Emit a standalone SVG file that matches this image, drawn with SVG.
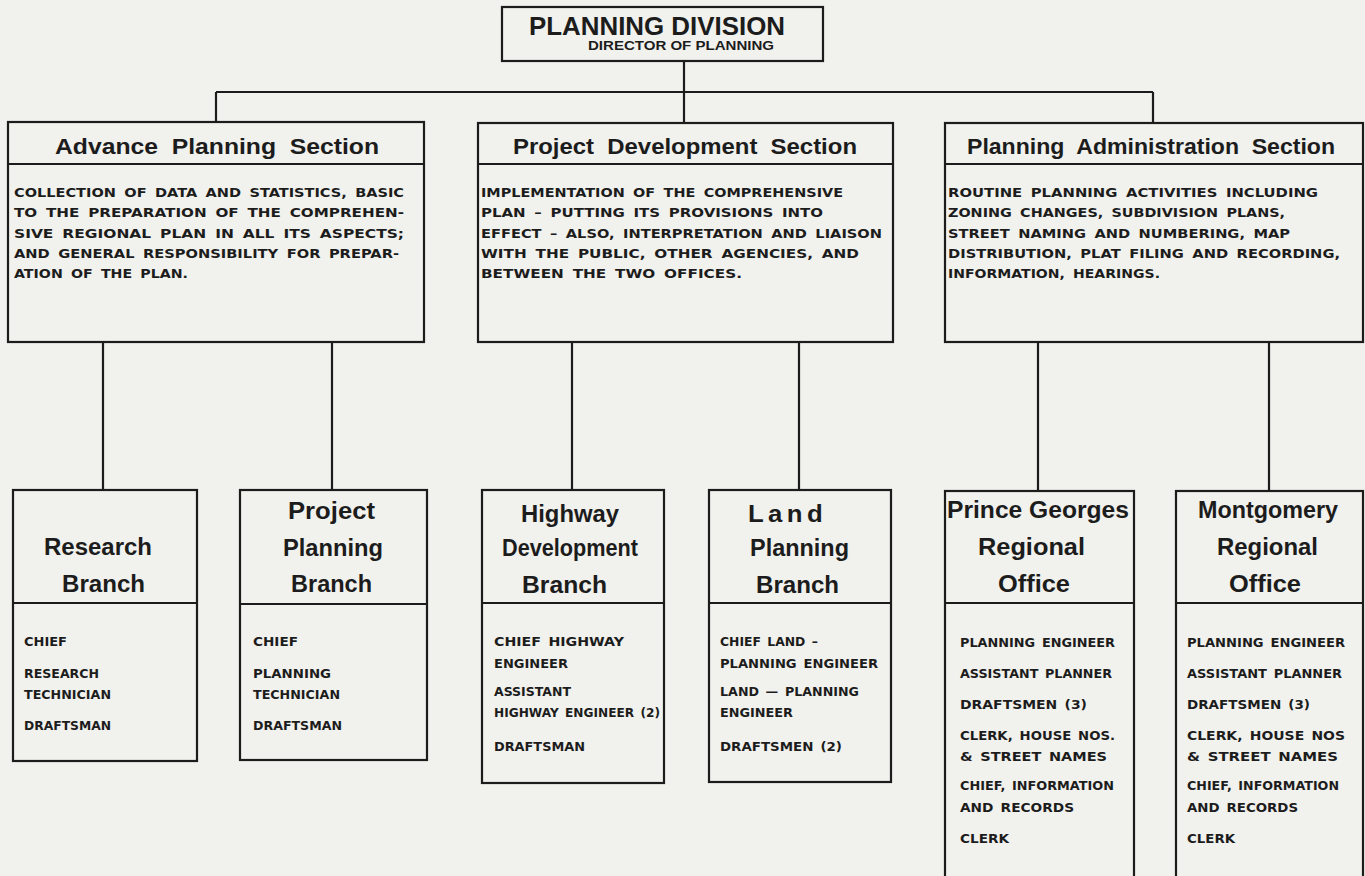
<svg xmlns="http://www.w3.org/2000/svg" width="1365" height="876" viewBox="0 0 1365 876">
<style>
.bg{fill:#f1f1ed}
.box{fill:none;stroke:#1c1c1c;stroke-width:2.2}
.ln{stroke:#1c1c1c;stroke-width:2.2;fill:none}
text{font-family:"Liberation Sans",Arial,sans-serif;font-weight:bold;fill:#1c1c1c}
.h1{font-size:25px}
.h2{font-size:12.5px}
.st{font-size:22px;word-spacing:6px}
.ds{font-family:"DejaVu Sans",sans-serif;font-size:13px;word-spacing:3px}
.bt{font-size:23.5px}
.sf{font-family:"DejaVu Sans",sans-serif;font-size:11.5px;word-spacing:2px}
</style>
<rect class="bg" x="0" y="0" width="1365" height="876"/>
<g id="connectors">
<line class="ln" x1="684" y1="61" x2="684" y2="123"/>
<line class="ln" x1="216" y1="92" x2="1153" y2="92"/>
<line class="ln" x1="216" y1="92" x2="216" y2="123"/>
<line class="ln" x1="1153" y1="92" x2="1153" y2="123"/>
<line class="ln" x1="103" y1="342" x2="103" y2="490"/>
<line class="ln" x1="332" y1="342" x2="332" y2="490"/>
<line class="ln" x1="572" y1="342" x2="572" y2="490"/>
<line class="ln" x1="799" y1="342" x2="799" y2="490"/>
<line class="ln" x1="1038" y1="342" x2="1038" y2="491"/>
<line class="ln" x1="1269" y1="342" x2="1269" y2="491"/>
</g>
<g id="planning-division">
<rect class="box" x="502" y="7" width="321" height="54"/>
<text class="h1" x="529" y="35" textLength="256" lengthAdjust="spacingAndGlyphs">PLANNING DIVISION</text>
<text class="h2" x="588" y="50" textLength="186" lengthAdjust="spacingAndGlyphs">DIRECTOR OF PLANNING</text>
</g>
<g id="advance-planning-section">
<rect class="box" x="8" y="122" width="416" height="220"/>
<line class="ln" x1="8" y1="164" x2="424" y2="164"/>
<text class="st" x="55" y="154" textLength="324" lengthAdjust="spacingAndGlyphs">Advance Planning Section</text>
<text class="ds" x="14" y="197" textLength="390" lengthAdjust="spacingAndGlyphs">COLLECTION OF DATA AND STATISTICS, BASIC</text>
<text class="ds" x="14" y="217" textLength="390" lengthAdjust="spacingAndGlyphs">TO THE PREPARATION OF THE COMPREHEN-</text>
<text class="ds" x="14" y="237.5" textLength="390" lengthAdjust="spacingAndGlyphs">SIVE REGIONAL PLAN IN ALL ITS ASPECTS;</text>
<text class="ds" x="14" y="258" textLength="385" lengthAdjust="spacingAndGlyphs">AND GENERAL RESPONSIBILITY FOR PREPAR-</text>
<text class="ds" x="14" y="278" textLength="174" lengthAdjust="spacingAndGlyphs">ATION OF THE PLAN.</text>
</g>
<g id="project-development-section">
<rect class="box" x="478" y="123" width="415" height="219"/>
<line class="ln" x1="478" y1="164" x2="893" y2="164"/>
<text class="st" x="513" y="154" textLength="344" lengthAdjust="spacingAndGlyphs">Project Development Section</text>
<text class="ds" x="481" y="197" textLength="362" lengthAdjust="spacingAndGlyphs">IMPLEMENTATION OF THE COMPREHENSIVE</text>
<text class="ds" x="481" y="217" textLength="342" lengthAdjust="spacingAndGlyphs">PLAN – PUTTING ITS PROVISIONS INTO</text>
<text class="ds" x="481" y="237.5" textLength="401" lengthAdjust="spacingAndGlyphs">EFFECT – ALSO, INTERPRETATION AND LIAISON</text>
<text class="ds" x="481" y="258" textLength="378" lengthAdjust="spacingAndGlyphs">WITH THE PUBLIC, OTHER AGENCIES, AND</text>
<text class="ds" x="481" y="278" textLength="261" lengthAdjust="spacingAndGlyphs">BETWEEN THE TWO OFFICES.</text>
</g>
<g id="planning-administration-section">
<rect class="box" x="945" y="123" width="418" height="219"/>
<line class="ln" x1="945" y1="164" x2="1363" y2="164"/>
<text class="st" x="967" y="154" textLength="368" lengthAdjust="spacingAndGlyphs">Planning Administration Section</text>
<text class="ds" x="948" y="197" textLength="370" lengthAdjust="spacingAndGlyphs">ROUTINE PLANNING ACTIVITIES INCLUDING</text>
<text class="ds" x="948" y="217" textLength="337" lengthAdjust="spacingAndGlyphs">ZONING CHANGES, SUBDIVISION PLANS,</text>
<text class="ds" x="948" y="237.5" textLength="342" lengthAdjust="spacingAndGlyphs">STREET NAMING AND NUMBERING, MAP</text>
<text class="ds" x="948" y="258" textLength="392" lengthAdjust="spacingAndGlyphs">DISTRIBUTION, PLAT FILING AND RECORDING,</text>
<text class="ds" x="948" y="278" textLength="212" lengthAdjust="spacingAndGlyphs">INFORMATION,  HEARINGS.</text>
</g>
<g id="research-branch">
<rect class="box" x="13" y="490" width="184" height="271"/>
<line class="ln" x1="13" y1="603" x2="197" y2="603"/>
<text class="bt" x="44" y="555" textLength="108" lengthAdjust="spacingAndGlyphs">Research</text>
<text class="bt" x="62" y="592" textLength="83" lengthAdjust="spacingAndGlyphs">Branch</text>
<text class="sf" x="24" y="646" textLength="43" lengthAdjust="spacingAndGlyphs">CHIEF</text>
<text class="sf" x="24" y="678" textLength="75" lengthAdjust="spacingAndGlyphs">RESEARCH</text>
<text class="sf" x="24" y="699" textLength="87" lengthAdjust="spacingAndGlyphs">TECHNICIAN</text>
<text class="sf" x="24" y="730" textLength="87" lengthAdjust="spacingAndGlyphs">DRAFTSMAN</text>
</g>
<g id="project-planning-branch">
<rect class="box" x="240" y="490" width="187" height="270"/>
<line class="ln" x1="240" y1="604" x2="427" y2="604"/>
<text class="bt" x="288" y="519" textLength="87" lengthAdjust="spacingAndGlyphs">Project</text>
<text class="bt" x="283" y="556" textLength="100" lengthAdjust="spacingAndGlyphs">Planning</text>
<text class="bt" x="291" y="592" textLength="81" lengthAdjust="spacingAndGlyphs">Branch</text>
<text class="sf" x="253" y="646" textLength="45" lengthAdjust="spacingAndGlyphs">CHIEF</text>
<text class="sf" x="253" y="678" textLength="78" lengthAdjust="spacingAndGlyphs">PLANNING</text>
<text class="sf" x="253" y="699" textLength="87" lengthAdjust="spacingAndGlyphs">TECHNICIAN</text>
<text class="sf" x="253" y="730" textLength="89" lengthAdjust="spacingAndGlyphs">DRAFTSMAN</text>
</g>
<g id="highway-development-branch">
<rect class="box" x="482" y="490" width="182" height="293"/>
<line class="ln" x1="482" y1="603" x2="664" y2="603"/>
<text class="bt" x="521" y="522" textLength="98" lengthAdjust="spacingAndGlyphs">Highway</text>
<text class="bt" x="502" y="556" textLength="136" lengthAdjust="spacingAndGlyphs">Development</text>
<text class="bt" x="522" y="593" textLength="85" lengthAdjust="spacingAndGlyphs">Branch</text>
<text class="sf" x="494" y="646" textLength="130" lengthAdjust="spacingAndGlyphs">CHIEF   HIGHWAY</text>
<text class="sf" x="494" y="668" textLength="74" lengthAdjust="spacingAndGlyphs">ENGINEER</text>
<text class="sf" x="494" y="696" textLength="77" lengthAdjust="spacingAndGlyphs">ASSISTANT</text>
<text class="sf" x="494" y="717" textLength="166" lengthAdjust="spacingAndGlyphs">HIGHWAY  ENGINEER (2)</text>
<text class="sf" x="494" y="751" textLength="91" lengthAdjust="spacingAndGlyphs">DRAFTSMAN</text>
</g>
<g id="land-planning-branch">
<rect class="box" x="709" y="490" width="182" height="292"/>
<line class="ln" x1="709" y1="603" x2="891" y2="603"/>
<text class="bt" x="748" y="522" textLength="79" lengthAdjust="spacingAndGlyphs" style="letter-spacing:4px">Land</text>
<text class="bt" x="750" y="556" textLength="99" lengthAdjust="spacingAndGlyphs">Planning</text>
<text class="bt" x="756" y="593" textLength="83" lengthAdjust="spacingAndGlyphs">Branch</text>
<text class="sf" x="720" y="646" textLength="98" lengthAdjust="spacingAndGlyphs">CHIEF LAND –</text>
<text class="sf" x="720" y="668" textLength="158" lengthAdjust="spacingAndGlyphs">PLANNING  ENGINEER</text>
<text class="sf" x="720" y="696" textLength="139" lengthAdjust="spacingAndGlyphs">LAND — PLANNING</text>
<text class="sf" x="720" y="717" textLength="73" lengthAdjust="spacingAndGlyphs">ENGINEER</text>
<text class="sf" x="720" y="751" textLength="122" lengthAdjust="spacingAndGlyphs">DRAFTSMEN (2)</text>
</g>
<g id="prince-georges-regional-office">
<rect class="box" x="945" y="491" width="189" height="390"/>
<line class="ln" x1="945" y1="603" x2="1134" y2="603"/>
<text class="bt" x="947" y="518" textLength="182" lengthAdjust="spacingAndGlyphs">Prince  Georges</text>
<text class="bt" x="978" y="555" textLength="107" lengthAdjust="spacingAndGlyphs">Regional</text>
<text class="bt" x="998" y="592" textLength="72" lengthAdjust="spacingAndGlyphs">Office</text>
<text class="sf" x="960" y="647" textLength="155" lengthAdjust="spacingAndGlyphs">PLANNING  ENGINEER</text>
<text class="sf" x="960" y="678" textLength="152" lengthAdjust="spacingAndGlyphs">ASSISTANT PLANNER</text>
<text class="sf" x="960" y="709" textLength="127" lengthAdjust="spacingAndGlyphs">DRAFTSMEN (3)</text>
<text class="sf" x="960" y="740" textLength="155" lengthAdjust="spacingAndGlyphs">CLERK, HOUSE NOS.</text>
<text class="sf" x="960" y="761" textLength="147" lengthAdjust="spacingAndGlyphs">&amp; STREET  NAMES</text>
<text class="sf" x="960" y="790" textLength="154" lengthAdjust="spacingAndGlyphs">CHIEF, INFORMATION</text>
<text class="sf" x="960" y="812" textLength="114" lengthAdjust="spacingAndGlyphs">AND RECORDS</text>
<text class="sf" x="960" y="843" textLength="49" lengthAdjust="spacingAndGlyphs">CLERK</text>
</g>
<g id="montgomery-regional-office">
<rect class="box" x="1176" y="491" width="187" height="390"/>
<line class="ln" x1="1176" y1="603" x2="1363" y2="603"/>
<text class="bt" x="1198" y="518" textLength="140" lengthAdjust="spacingAndGlyphs">Montgomery</text>
<text class="bt" x="1217" y="555" textLength="101" lengthAdjust="spacingAndGlyphs">Regional</text>
<text class="bt" x="1229" y="592" textLength="72" lengthAdjust="spacingAndGlyphs">Office</text>
<text class="sf" x="1187" y="647" textLength="158" lengthAdjust="spacingAndGlyphs">PLANNING  ENGINEER</text>
<text class="sf" x="1187" y="678" textLength="155" lengthAdjust="spacingAndGlyphs">ASSISTANT  PLANNER</text>
<text class="sf" x="1187" y="709" textLength="123" lengthAdjust="spacingAndGlyphs">DRAFTSMEN (3)</text>
<text class="sf" x="1187" y="740" textLength="158" lengthAdjust="spacingAndGlyphs">CLERK, HOUSE NOS</text>
<text class="sf" x="1187" y="761" textLength="151" lengthAdjust="spacingAndGlyphs">&amp; STREET  NAMES</text>
<text class="sf" x="1187" y="790" textLength="152" lengthAdjust="spacingAndGlyphs">CHIEF, INFORMATION</text>
<text class="sf" x="1187" y="812" textLength="111" lengthAdjust="spacingAndGlyphs">AND RECORDS</text>
<text class="sf" x="1187" y="843" textLength="48" lengthAdjust="spacingAndGlyphs">CLERK</text>
</g>
</svg>
